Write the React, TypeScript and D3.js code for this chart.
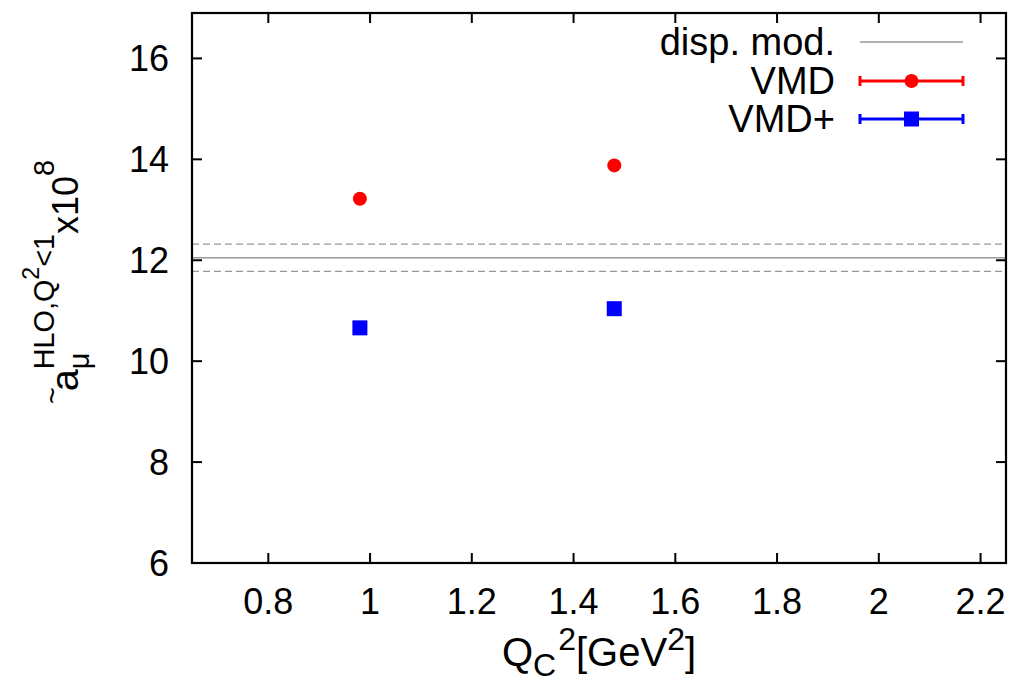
import React from "react";
import * as d3 from "d3";

const xTicks = [0.8, 1.0, 1.2, 1.4, 1.6, 1.8, 2.0, 2.2];
const yTicks = [6, 8, 10, 12, 14, 16];
const xDomain = [0.65, 2.25];
const yDomain = [6, 16.9];

const vmdX = [0.98, 1.48];
const vmdY = [13.22, 13.88];
const vmdPlusX = [0.98, 1.48];
const vmdPlusY = [10.66, 11.04];

const dispCentral = 12.05;
const dispUpper = 12.32;
const dispLower = 11.78;

const legendLabels = ["disp. mod.", "VMD", "VMD+"];

const FONT = "'Liberation Sans', Arial, Helvetica, sans-serif";

let canvasCtx: CanvasRenderingContext2D | null = null;
function measure(text: string, size: number): number {
  if (!canvasCtx) {
    const c = document.createElement("canvas");
    canvasCtx = c.getContext("2d");
  }
  if (!canvasCtx) return text.length * size * 0.55;
  canvasCtx.font = `${size}px ${FONT}`;
  return canvasCtx.measureText(text).width;
}

type Piece = { t: string; s: number; dy: number; stack?: boolean; gap?: number };

function layout(pieces: Piece[]) {
  let x = 0;
  let groupStart = 0;
  let groupEnd = 0;
  const out: { t: string; s: number; dy: number; x: number }[] = [];
  pieces.forEach((p) => {
    const w = measure(p.t, p.s);
    if (p.stack) {
      out.push({ ...p, x: groupStart });
      groupEnd = Math.max(groupEnd, groupStart + w);
      x = groupEnd;
    } else {
      x += p.gap || 0;
      groupStart = x;
      out.push({ ...p, x });
      x += w;
      groupEnd = x;
    }
  });
  return { out, width: x };
}

function RichText({ pieces, x, y, rotate }: { pieces: Piece[]; x: number; y: number; rotate?: number }) {
  const { out, width } = layout(pieces);
  return (
    <g transform={`translate(${x},${y}) rotate(${rotate || 0})`}>
      {out.map((p, i) => (
        <text key={i} x={p.x - width / 2} y={p.dy} fontSize={p.s} fontFamily={FONT} fill="#000">
          {p.t}
        </text>
      ))}
    </g>
  );
}

export default function App() {
  const W = 1018;
  const H = 684;
  const left = 192;
  const right = 1006;
  const top = 13;
  const bottom = 563;
  const x = d3.scaleLinear().domain(xDomain).range([left, right]);
  const y = d3.scaleLinear().domain(yDomain).range([bottom, top]);
  const tickLen = 10;
  const tickFont = 36;
  const legFont = 38;

  const FY = 36;
  const yLabel: Piece[] = [
    { t: "~", s: FY * 0.8, dy: -FY * 0.45 },
    { t: "a", s: FY * 1.1, dy: 0, gap: -4 },
    { t: "μ", s: FY * 0.8, dy: FY * 0.3 },
    { t: "HLO,Q", s: FY * 0.8, dy: -FY * 0.68, stack: true },
    { t: "2", s: FY * 0.64, dy: -FY * 1.08 },
    { t: "<1", s: FY * 0.8, dy: -FY * 0.68 },
    { t: "x10", s: FY, dy: 0 },
    { t: "8", s: FY * 0.8, dy: -FY * 0.68 },
  ];
  const FX = 40;
  const xLabel: Piece[] = [
    { t: "Q", s: FX, dy: 0 },
    { t: "C", s: FX * 0.8, dy: FX * 0.24 },
    { t: "2", s: FX * 0.8, dy: -FX * 0.4, gap: 2 },
    { t: "[GeV", s: FX, dy: 0 },
    { t: "2", s: FX * 0.8, dy: -FX * 0.4 },
    { t: "]", s: FX, dy: 0 },
  ];

  const legX1 = 860;
  const legX2 = 963;
  const legTextX = 835;
  const legRows = [42, 81, 119];
  const capH = 10;

  return (
    <svg width={W} height={H} style={{ position: "absolute", left: 0, top: 0, background: "#fff" }}>
      <rect x={0} y={0} width={W} height={H} fill="#fff" />
      {/* dispersive model band */}
      <line x1={left} x2={right} y1={y(dispCentral)} y2={y(dispCentral)} stroke="#999" strokeWidth={1.6} />
      <line x1={left} x2={right} y1={y(dispUpper)} y2={y(dispUpper)} stroke="#999" strokeWidth={1.3} strokeDasharray="7,4" />
      <line x1={left} x2={right} y1={y(dispLower)} y2={y(dispLower)} stroke="#999" strokeWidth={1.3} strokeDasharray="7,4" />

      {/* ticks */}
      {xTicks.map((t) => (
        <g key={"xt" + t}>
          <line x1={x(t)} x2={x(t)} y1={bottom} y2={bottom - tickLen} stroke="#000" strokeWidth={2} />
          <line x1={x(t)} x2={x(t)} y1={top} y2={top + tickLen} stroke="#000" strokeWidth={2} />
          <text x={x(t)} y={bottom + 51} textAnchor="middle" fontSize={tickFont} fontFamily={FONT}>
            {d3.format("~g")(t)}
          </text>
        </g>
      ))}
      {yTicks.map((t) => (
        <g key={"yt" + t}>
          <line x1={left} x2={left + tickLen} y1={y(t)} y2={y(t)} stroke="#000" strokeWidth={2} />
          <line x1={right} x2={right - tickLen} y1={y(t)} y2={y(t)} stroke="#000" strokeWidth={2} />
          <text x={169} y={y(t) + 13} textAnchor="end" fontSize={tickFont} fontFamily={FONT}>
            {t}
          </text>
        </g>
      ))}

      {/* points */}
      {vmdX.map((v, i) => (
        <circle key={"c" + i} cx={x(v)} cy={y(vmdY[i])} r={7} fill="#ff0000" />
      ))}
      {vmdPlusX.map((v, i) => (
        <rect key={"s" + i} x={x(v) - 7.5} y={y(vmdPlusY[i]) - 7.5} width={15} height={15} fill="#0000ff" />
      ))}

      {/* legend */}
      {legendLabels.map((l, i) => (
        <text key={"lt" + i} x={legTextX} y={legRows[i] + 13} textAnchor="end" fontSize={legFont} fontFamily={FONT}>
          {l}
        </text>
      ))}
      <line x1={legX1} x2={legX2} y1={legRows[0]} y2={legRows[0]} stroke="#999" strokeWidth={1.6} />
      {[1, 2].map((r) => {
        const col = r === 1 ? "#ff0000" : "#0000ff";
        const yy = legRows[r];
        return (
          <g key={"lg" + r}>
            <line x1={legX1} x2={legX2} y1={yy} y2={yy} stroke={col} strokeWidth={3} />
            <line x1={legX1} x2={legX1} y1={yy - capH / 2} y2={yy + capH / 2} stroke={col} strokeWidth={3} />
            <line x1={legX2} x2={legX2} y1={yy - capH / 2} y2={yy + capH / 2} stroke={col} strokeWidth={3} />
            {r === 1 ? (
              <circle cx={(legX1 + legX2) / 2} cy={yy} r={7} fill={col} />
            ) : (
              <rect x={(legX1 + legX2) / 2 - 7.5} y={yy - 7.5} width={15} height={15} fill={col} />
            )}
          </g>
        );
      })}

      {/* frame */}
      <rect x={left} y={top} width={right - left} height={bottom - top} fill="none" stroke="#000" strokeWidth={2.2} />

      <RichText pieces={xLabel} x={(left + right) / 2} y={666} />
      <RichText pieces={yLabel} x={78} y={282} rotate={-90} />
    </svg>
  );
}
